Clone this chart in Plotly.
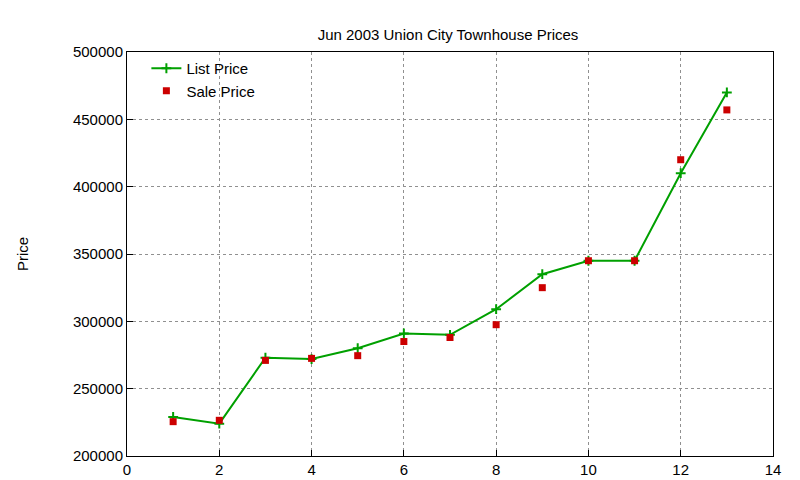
import plotly.graph_objects as go

x = list(range(1, 14))
list_price = [229000, 224000, 273000, 272000, 280000, 291000, 290000, 309000, 335000, 345000, 345000, 410000, 470000]
sale_price = [225500, 226500, 271000, 272500, 274500, 285000, 288000, 297500, 325000, 345000, 345000, 420000, 457000]

fig = go.Figure()
fig.add_trace(go.Scatter(x=x, y=list_price, mode="lines+markers", name="List Price",
                         line=dict(color="#00a000", width=2),
                         marker=dict(symbol="cross-thin", size=7, line=dict(color="#00a000", width=2))))
fig.add_trace(go.Scatter(x=x, y=sale_price, mode="markers", name="Sale Price",
                         marker=dict(symbol="square", size=7, color="#cc0000")))

ax = dict(showline=True, linecolor="black", linewidth=1, mirror=True, ticks="inside",
          tickcolor="black", ticklen=6, showgrid=True, gridcolor="#909090", griddash="dot",
          zeroline=False, automargin=False, tickfont=dict(size=15, color="black"))
fig.update_xaxes(range=[0, 14], dtick=2, **ax)
fig.update_yaxes(range=[200000, 500000], dtick=50000, tickformat="d",
                 title=dict(text="Price", font=dict(size=15, color="black"), standoff=40), **ax)
fig.update_layout(
    width=800, height=480, plot_bgcolor="white", paper_bgcolor="white",
    font=dict(family="Liberation Sans, Arial, sans-serif", color="black"),
    margin=dict(l=119, r=35, t=44, b=32, autoexpand=False),
    title=dict(text="Jun 2003 Union City Townhouse Prices", x=0.55, xanchor="center", y=0.955,
               font=dict(size=15, color="black")),
    legend=dict(x=0.03, y=1.0, xanchor="left", yanchor="top", bgcolor="rgba(0,0,0,0)",
                font=dict(size=15), tracegroupgap=0),
    showlegend=True,
)
fig.write_html("out.html")
